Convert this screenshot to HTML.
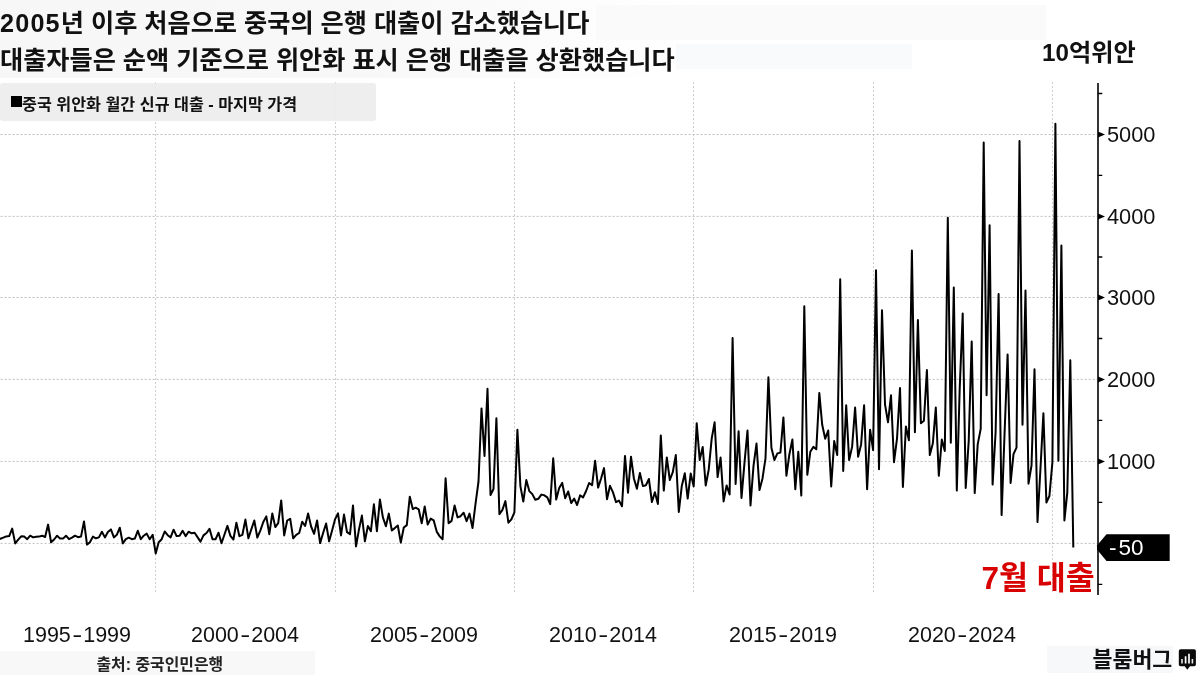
<!DOCTYPE html>
<html lang="ko">
<head>
<meta charset="utf-8">
<title>중국 위안화 월간 신규 대출</title>
<style>
html,body{margin:0;padding:0;}
body{width:1200px;height:675px;position:relative;overflow:hidden;background:#fff;
  font-family:"Liberation Sans","Noto Sans CJK KR",sans-serif;color:#000;}
.abs{position:absolute;white-space:nowrap;}
#topbg{left:0;top:0;width:700px;height:78px;background:linear-gradient(90deg,#f7f7f7 0,#f8f8f8 380px,#fcfcfc 560px,#fff 690px);}
#gh1{left:596px;top:5px;width:450px;height:35px;background:#fafafa;}
#gh2{left:676px;top:44px;width:236px;height:25px;background:#f8fafb;}
#t1,#t2{left:0;font-weight:700;font-size:25.2px;line-height:36px;color:#111;}
#t1{top:4.6px;}
#t2{top:42px;}
#unit{left:1042px;top:36px;font-weight:700;font-size:24.2px;line-height:34px;color:#111;}
#legend{left:0;top:82.5px;width:376px;height:38.5px;background:rgba(236,236,236,0.9);border-radius:3px;}
#legsq{left:11px;top:96px;width:11px;height:11px;background:#000;}
#legtx{left:22px;top:92.5px;font-weight:700;font-size:16.2px;line-height:22px;color:#111;}
.xl{top:621px;font-size:21.5px;line-height:28px;color:#111;width:140px;text-align:center;}
.yl{left:1107px;font-size:21.8px;line-height:24px;color:#111;}
#srcbg{left:0;top:651px;width:315px;height:24px;background:#f8f8f8;}
#src{left:96.5px;top:652.5px;font-weight:700;font-size:15.9px;line-height:24px;color:#222;}
#bbg{left:1047px;top:646px;width:126px;height:27px;background:#f6f8fa;}
#bb{left:1092.5px;top:644.5px;font-weight:700;font-size:21.7px;line-height:30px;color:#111;}
#jul{left:981.5px;top:557.5px;font-weight:700;font-size:31.5px;line-height:40px;color:#d80000;}
#chart{left:0;top:0;}
.hy{display:inline-block;transform:scaleX(1.4);padding:0 2.6px;}
</style>
</head>
<body>
<div class="abs" id="topbg"></div>
<div class="abs" id="gh1"></div>
<div class="abs" id="gh2"></div>
<div class="abs" id="t1"><span style="letter-spacing:1.2px">2005</span>년 이후 처음으로 중국의 은행 대출이 감소했습니다</div>
<div class="abs" id="t2">대출자들은 순액 기준으로 위안화 표시 은행 대출을 상환했습니다</div>
<div class="abs" id="unit">10억위안</div>
<div class="abs" id="srcbg"></div>
<div class="abs" id="bbg"></div>

<svg class="abs" id="chart" width="1200" height="675" viewBox="0 0 1200 675">
  <g id="grid" stroke="#b2b2b2" stroke-width="0.85" stroke-dasharray="2 2" fill="none">
    <path d="M155.5 82.3V592.4M335.5 82.3V592.4M514.5 82.3V592.4M693.5 82.3V592.4M873.5 82.3V592.4M1052.5 82.3V592.4" stroke="#b4b4b4" stroke-dasharray="1.5 2.5"/>
    <path d="M0.6 134.5H1097M0.6 216.4H1097M0.6 297.5H1097M0.6 379.4H1097M0.6 461.4H1097M0.6 543.4H1097"/>
  </g>
  <g id="axis" stroke="#000" stroke-width="1.6" fill="none">
    <path d="M1098 83V595" stroke-width="1.6"/>
    <path d="M1098 93.5H1102.3M1098 175.4H1102.3M1098 257H1102.3M1098 338.5H1102.3M1098 420.4H1102.3M1098 502.4H1102.3M1098 584.4H1102.3" stroke-width="1.4"/>
  </g>
  <g id="majticks" fill="#000">
    <path d="M1098 131.5L1105 134.5L1098 137.5ZM1098 213.4L1105 216.4L1098 219.4ZM1098 294.5L1105 297.5L1098 300.5ZM1098 376.4L1105 379.4L1098 382.4ZM1098 458.4L1105 461.4L1098 464.4Z"/>
  </g>
  <path id="line" d="M-2.7 539.6L0.3 538.8L3.3 537.6L6.2 536.4L9.2 536.1L12.2 528.6L15.2 543.4L18.2 539.7L21.2 536.3L24.2 536.6L27.2 539.2L30.2 535.7L33.2 537.4L36.1 536.7L39.1 536.6L42.1 535.7L45.1 537.0L48.1 524.6L51.1 542.3L54.1 539.5L57.1 535.7L60.1 538.6L63.0 538.6L66.0 535.7L69.0 539.2L72.0 537.7L75.0 535.7L78.0 537.2L81.0 536.6L84.0 521.4L87.0 544.6L89.9 542.3L92.9 536.6L95.9 538.3L98.9 537.4L101.9 531.7L104.9 537.4L107.9 532.1L110.9 529.4L113.9 537.4L116.8 534.8L119.8 527.7L122.8 543.4L125.8 539.2L128.8 537.7L131.8 539.2L134.8 538.6L137.8 530.8L140.8 539.2L143.7 535.7L146.7 533.6L149.7 539.2L152.7 534.8L155.7 553.4L158.7 542.3L161.7 539.2L164.7 531.5L167.7 535.2L170.6 537.4L173.6 529.7L176.6 536.1L179.6 535.7L182.6 530.8L185.6 536.1L188.6 531.7L191.6 533.3L194.6 532.7L197.5 537.1L200.5 541.6L203.5 535.4L206.5 533.0L209.5 528.8L212.5 539.3L215.5 539.3L218.5 532.7L221.5 543.3L224.4 534.8L227.4 525.9L230.4 535.9L233.4 539.5L236.4 522.7L239.4 536.2L242.4 534.8L245.4 519.6L248.4 538.3L251.3 529.4L254.3 520.5L257.3 537.5L260.3 530.6L263.3 522.0L266.3 516.4L269.3 534.2L272.3 513.4L275.3 527.1L278.2 523.2L281.2 500.4L284.2 535.4L287.2 520.5L290.2 518.8L293.2 538.3L296.2 534.8L299.2 533.0L302.2 521.7L305.1 525.9L308.1 513.4L311.1 526.5L314.1 533.8L317.1 520.5L320.1 543.1L323.1 533.0L326.1 523.5L329.1 541.3L332.1 530.6L335.0 519.4L338.0 513.4L341.0 535.4L344.0 514.6L347.0 532.2L350.0 534.2L353.0 505.4L356.0 546.4L359.0 529.4L361.9 515.6L364.9 541.3L367.9 525.9L370.9 531.2L373.9 504.3L376.9 531.2L379.9 499.5L382.9 517.4L385.9 526.3L388.8 513.6L391.8 530.4L394.8 528.1L397.8 525.5L400.8 542.5L403.8 527.5L406.8 525.1L409.8 496.7L412.8 509.1L415.7 507.7L418.7 509.3L421.7 523.3L424.7 506.5L427.7 524.5L430.7 518.6L433.7 520.4L436.7 531.6L439.7 536.4L442.6 539.3L445.6 478.3L448.6 523.3L451.6 520.9L454.6 505.5L457.6 517.4L460.6 516.2L463.6 512.7L466.6 521.2L469.5 513.6L472.5 528.1L475.5 504.0L478.5 481.5L481.5 408.4L484.5 455.9L487.5 388.8L490.5 495.0L493.5 489.0L496.4 418.2L499.4 514.3L502.4 509.9L505.4 501.1L508.4 522.7L511.4 519.3L514.4 512.3L517.4 429.7L520.4 486.1L523.3 501.6L526.3 480.1L529.3 491.1L532.3 494.1L535.3 499.8L538.3 498.8L541.3 494.6L544.3 495.3L547.3 497.3L550.2 504.1L553.2 458.3L556.2 499.6L559.2 487.9L562.2 482.9L565.2 498.2L568.2 491.5L571.2 503.1L574.2 498.6L577.1 505.0L580.1 495.4L583.1 497.4L586.1 491.0L589.1 483.0L592.1 485.2L595.1 460.8L598.1 487.6L601.1 478.5L604.0 468.1L607.0 499.2L610.0 485.8L613.0 492.4L616.0 502.1L619.0 500.6L622.0 506.3L625.0 455.9L628.0 492.7L631.0 456.7L633.9 478.5L636.9 488.8L639.9 473.0L642.9 486.1L645.9 485.2L648.9 479.0L651.9 502.0L654.9 492.3L657.9 504.0L660.8 435.4L663.8 490.6L666.8 457.5L669.8 480.0L672.8 472.2L675.8 455.1L678.8 511.9L681.8 485.9L684.8 473.3L687.7 498.6L690.7 473.6L693.7 486.4L696.7 423.2L699.7 460.0L702.7 446.9L705.7 485.5L708.7 469.7L711.7 438.7L714.6 422.3L717.6 477.1L720.6 457.5L723.6 501.4L726.6 485.4L729.6 494.5L732.6 338.1L735.6 483.9L738.6 431.3L741.5 497.9L744.5 462.7L747.5 430.5L750.5 505.4L753.5 465.8L756.5 443.6L759.5 490.1L762.5 478.4L765.5 458.3L768.4 377.3L771.4 447.7L774.4 460.0L777.4 453.4L780.4 452.6L783.4 417.4L786.4 475.8L789.4 454.2L792.4 439.5L795.3 489.2L798.3 451.8L801.3 495.6L804.3 306.2L807.3 474.8L810.3 451.8L813.3 446.9L816.3 449.3L819.3 392.9L822.2 424.8L825.2 438.7L828.2 430.5L831.2 486.4L834.2 441.1L837.2 455.1L840.2 279.2L843.2 470.9L846.2 405.2L849.1 460.0L852.1 446.9L855.1 407.6L858.1 456.7L861.1 444.4L864.1 405.2L867.1 489.3L870.1 429.7L873.1 450.1L876.0 270.2L879.0 469.3L882.0 310.3L885.0 404.3L888.0 422.3L891.0 395.3L894.0 462.2L897.0 438.7L900.0 388.0L902.9 487.0L905.9 426.4L908.9 440.3L911.9 250.6L914.9 432.2L917.9 320.1L920.9 423.2L923.9 420.7L926.9 370.0L929.8 455.1L932.8 443.6L935.8 407.6L938.8 475.8L941.8 439.5L944.8 451.0L947.8 217.8L950.8 442.8L953.8 287.4L956.8 490.6L959.7 388.8L962.7 313.5L965.7 487.9L968.7 441.1L971.7 341.4L974.7 493.1L977.7 444.4L980.7 428.9L983.7 142.6L986.6 395.3L989.6 225.2L992.6 484.6L995.6 432.2L998.6 293.9L1001.6 515.1L1004.6 432.2L1007.6 354.4L1010.6 483.0L1013.5 454.2L1016.5 447.7L1019.5 140.9L1022.5 424.8L1025.5 290.6L1028.5 483.7L1031.5 465.7L1034.5 369.2L1037.5 522.1L1040.4 469.8L1043.4 413.3L1046.4 502.5L1049.4 496.0L1052.4 462.4L1055.4 123.8L1058.4 460.8L1061.4 245.6L1064.4 520.5L1067.3 492.7L1070.3 360.2L1073.3 547.5" fill="none" stroke="#000" stroke-width="2" stroke-linejoin="round"/>
  <path id="tag" d="M1097 545.5L1106.5 534.3H1169.7V561H1106.5L1097 549.5Z" fill="#000"/>
</svg>

<div class="abs" id="legend"></div>
<div class="abs" id="legsq"></div>
<div class="abs" id="legtx">중국 위안화 월간 신규 대출 - 마지막 가격</div>
<div class="abs yl" style="top:122.8px">5000</div>
<div class="abs yl" style="top:204.6px">4000</div>
<div class="abs yl" style="top:286px">3000</div>
<div class="abs yl" style="top:367.8px">2000</div>
<div class="abs yl" style="top:449.8px">1000</div>
<div class="abs yl" style="top:536px;left:1109px;color:#fff;font-size:22.5px"><span style="padding-right:2px">-</span>50</div>

<div class="abs xl" style="left:7px">1995<span class="hy">-</span>1999</div>
<div class="abs xl" style="left:175px">2000<span class="hy">-</span>2004</div>
<div class="abs xl" style="left:354px">2005<span class="hy">-</span>2009</div>
<div class="abs xl" style="left:533px">2010<span class="hy">-</span>2014</div>
<div class="abs xl" style="left:713px">2015<span class="hy">-</span>2019</div>
<div class="abs xl" style="left:892px">2020<span class="hy">-</span>2024</div>

<div class="abs" id="jul">7월 대출</div>
<div class="abs" id="src">출처: 중국인민은행</div>
<div class="abs" id="bb">블룸버그</div>
<svg class="abs" id="bbicon" style="left:1178px;top:649px" width="20" height="23" viewBox="0 0 20 23">
  <path d="M2.6 0.3H16.1Q17.9 0.3 17.9 2.1V15.4Q17.9 17.2 16.1 17.2H12L9.3 20.8L6.7 17.2H2.6Q0.8 17.2 0.8 15.4V2.1Q0.8 0.3 2.6 0.3Z" fill="#0a0a0a"/>
  <path d="M4 9.9V14.5M14.4 9.9V14.5" stroke="#e6e6e6" stroke-width="1.6" fill="none"/>
  <path d="M7.6 7.2V14.5M11 4.7V14.5" stroke="#fff" stroke-width="1.7" fill="none"/>
</svg>
</body>
</html>
